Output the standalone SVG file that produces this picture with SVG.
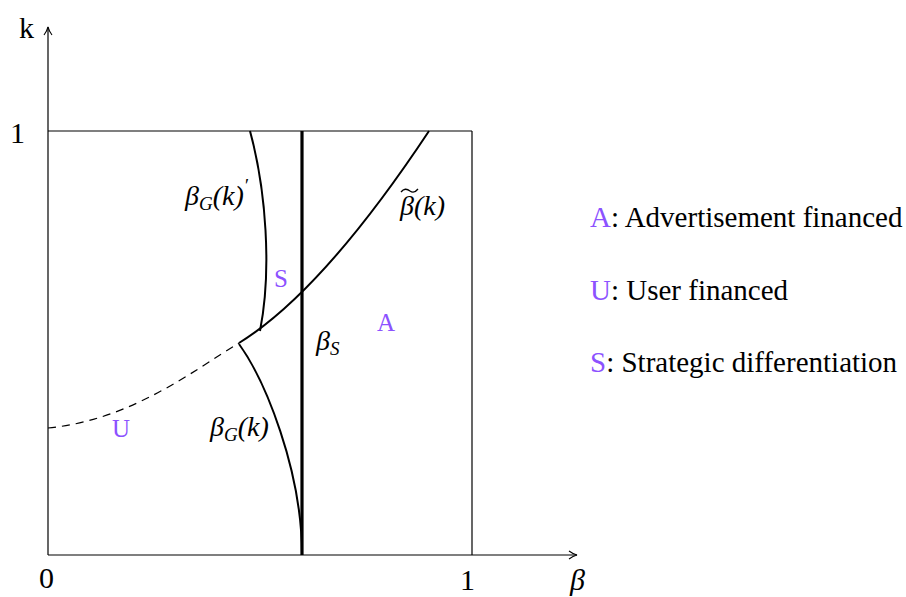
<svg xmlns="http://www.w3.org/2000/svg" width="906" height="597" viewBox="0 0 906 597">
<style>
.ax{stroke:#000;stroke-width:1.2;fill:none}
.cv{stroke:#000;stroke-width:2;fill:none}
.thick{stroke:#000;stroke-width:3.2;fill:none}
.dash{stroke:#000;stroke-width:1.2;fill:none;stroke-dasharray:8 6}
text{font-family:"Liberation Serif","DejaVu Serif",serif;fill:#000}
.big{font-size:30px}
.m{font-size:28px;font-style:italic}
.sub{font-size:19px}
.p{fill:#8c52ff}
.lg{font-size:29px}
</style>
<defs>
<marker id="arr" viewBox="0 0 10 10" refX="9" refY="5" markerWidth="10" markerHeight="10" markerUnits="userSpaceOnUse" orient="auto">
<path d="M1,1 Q5,4 9,5 Q5,6 1,9" fill="none" stroke="#000" stroke-width="1.1"/>
</marker>
</defs>
<g id="axes">
<line class="ax" x1="48" y1="555" x2="48" y2="27" marker-end="url(#arr)"/>
<line class="ax" x1="48" y1="555" x2="577" y2="555" marker-end="url(#arr)"/>
<line class="ax" x1="48" y1="131" x2="472" y2="131"/>
<line class="ax" x1="472" y1="131" x2="472" y2="555"/>
<text class="big" x="19" y="38">k</text>
<text class="big" x="10" y="143">1</text>
<text class="big" x="39" y="588">0</text>
<text class="big" x="460" y="590">1</text>
<text class="big" x="570" y="590" font-style="italic">β</text>
</g>
<g id="connectors">
<path id="beta-s" class="thick" d="M302,131 L302,555"/>
<path id="beta-tilde" class="cv" d="M239,343 C302,304 366,226 429,131"/>
<path id="beta-tilde-dashed" class="dash" d="M48,428 C130,420 190,373 239,343"/>
<path id="beta-g-prime" class="cv" d="M250,131 C266,190 272,270 260,331"/>
<path id="beta-g" class="cv" d="M239,344 C265,380 302,470 302,555"/>
</g>
<g id="labels">
<text class="m" x="185" y="205">β<tspan class="sub" dy="5">G</tspan><tspan dy="-5">(k)</tspan><tspan class="sub" dy="-13">′</tspan></text>
<text class="m" x="400" y="215">β(k)</text>
<path d="M401,192 Q405,187 410,191 Q414,194 418,189" fill="none" stroke="#000" stroke-width="1.3"/>
<text class="m" x="316" y="350">β<tspan class="sub" dy="5">S</tspan></text>
<text class="m" x="210" y="436">β<tspan class="sub" dy="5">G</tspan><tspan dy="-5">(k)</tspan></text>
</g>
<g id="regions">
<text class="p" font-size="25" x="274" y="287">S</text>
<text class="p" font-size="25" x="377" y="331">A</text>
<text class="p" font-size="25" x="112" y="437">U</text>
</g>
<g id="legend">
<text class="lg" x="590" y="227"><tspan class="p">A</tspan>: Advertisement financed</text>
<text class="lg" x="590" y="300"><tspan class="p">U</tspan>: User financed</text>
<text class="lg" x="590" y="372"><tspan class="p">S</tspan>: Strategic differentiation</text>
</g>
</svg>
